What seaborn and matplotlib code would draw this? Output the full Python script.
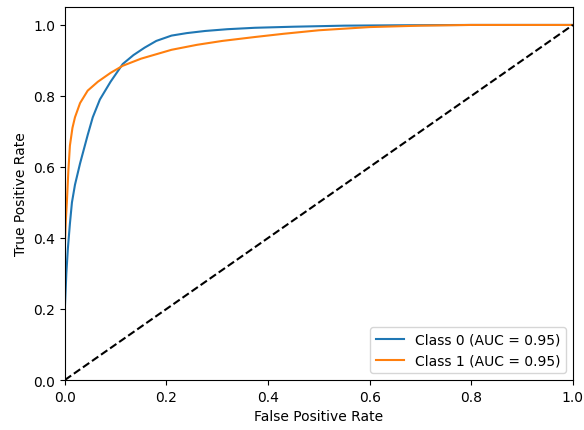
import pandas as pd
import matplotlib
matplotlib.use("Agg")
import matplotlib.pyplot as plt
import seaborn as sns

# ROC points
fpr_0 = [0, 0.0, 0.003, 0.006, 0.01, 0.014, 0.02, 0.03, 0.045, 0.055, 0.069, 0.09, 0.114,
         0.135, 0.157, 0.18, 0.21, 0.24, 0.276, 0.32, 0.374, 0.45, 0.55, 0.65, 0.8, 1.0]
tpr_0 = [0, 0.2, 0.3, 0.37, 0.44, 0.50, 0.55, 0.61, 0.69, 0.74, 0.79, 0.84, 0.89,
         0.915, 0.936, 0.955, 0.97, 0.977, 0.983, 0.988, 0.992, 0.995, 0.998, 0.999, 1.0, 1.0]
fpr_1 = [0, 0, 0.002, 0.004, 0.007, 0.01, 0.015, 0.02, 0.03, 0.045, 0.065, 0.09, 0.114,
         0.15, 0.21, 0.26, 0.31, 0.374, 0.43, 0.5, 0.6, 0.7, 0.8, 1.0]
tpr_1 = [0, 0.38, 0.45, 0.50, 0.59, 0.66, 0.71, 0.74, 0.78, 0.815, 0.84, 0.865, 0.885,
         0.905, 0.93, 0.944, 0.955, 0.966, 0.975, 0.985, 0.994, 0.998, 1.0, 1.0]
auc_scores = [0.95, 0.95]
class_labels = [f"Class {i} (AUC = {a:.2f})" for i, a in enumerate(auc_scores)]

# Long format for seaborn
df = pd.concat([
    pd.DataFrame({"fpr": fpr_0, "tpr": tpr_0, "cls": class_labels[0]}),
    pd.DataFrame({"fpr": fpr_1, "tpr": tpr_1, "cls": class_labels[1]}),
])

fig, ax = plt.subplots(figsize=(5.84, 4.31), dpi=100)
sns.lineplot(data=df, x="fpr", y="tpr", hue="cls", sort=False, estimator=None,
             palette=["#1f77b4", "#ff7f0e"], linewidth=1.5, ax=ax)
ax.plot([0, 1], [0, 1], "k--")
ax.set_xlim([0.0, 1.0])
ax.set_ylim([0.0, 1.05])
ax.set_xlabel("False Positive Rate")
ax.set_ylabel("True Positive Rate")
ax.legend(loc="lower right")
fig.subplots_adjust(left=0.111, right=0.981, top=0.981, bottom=0.116)
fig.savefig("out.png")
